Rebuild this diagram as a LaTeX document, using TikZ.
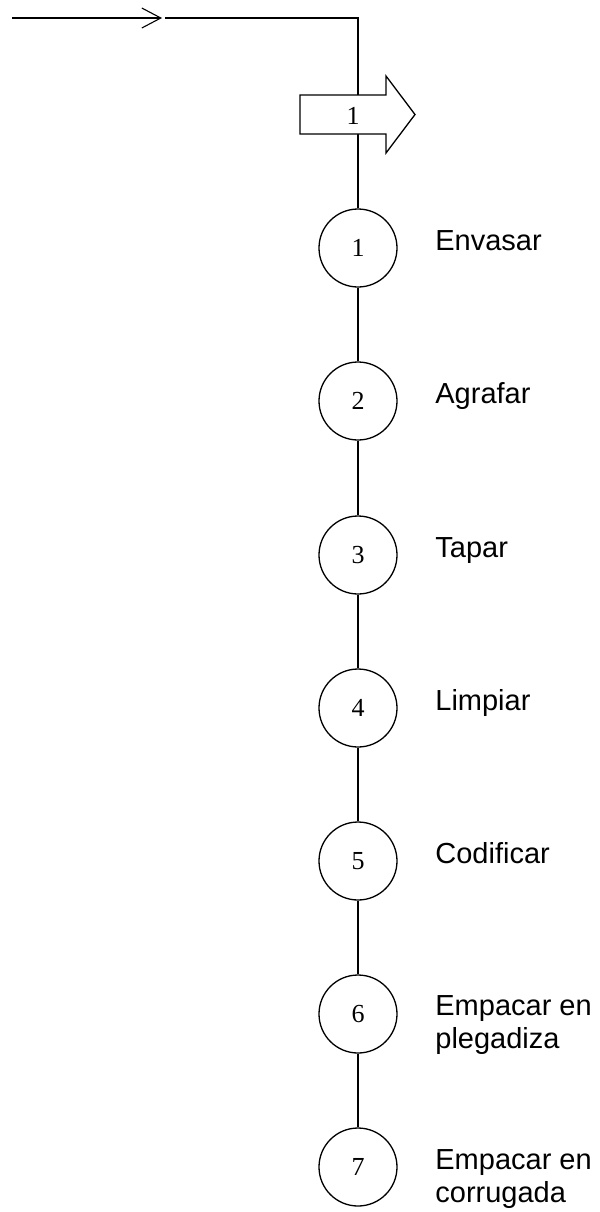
\documentclass[tikz,border=0pt]{standalone}
\usepackage{fontspec}
\setmainfont{Liberation Serif}
\newfontfamily\labelfont{Liberation Sans}
\usetikzlibrary{arrows.meta}
\begin{document}
\begin{tikzpicture}[x=0.5pt,y=-0.5pt,
  flowline/.style={line width=0.55pt},
  opstep/.style={circle,draw,line width=0.65pt,fill=white,minimum size=39pt,inner sep=0pt,
    font=\fontsize{13}{15}\selectfont},
  oplabel/.style={anchor=base west,inner sep=0pt,align=left,
    font=\labelfont\fontsize{14.5}{16.5}\selectfont},
  inarrow/.style={flowline,-{Straight Barb[length=9.5pt,width=10pt,line width=0.55pt]}},
  blockarrow/.style={draw,line width=0.65pt,fill=white}]
\useasboundingbox (0,0) rectangle (600,1212);

% incoming line and corner
\coordinate (in0) at (12,18);
\coordinate (in1) at (162,18);
\coordinate (in2) at (165,18);
\coordinate (corner) at (358,18);

% operation circles
\foreach \i/\y in {1/248,2/401,3/555,4/708,5/861,6/1014,7/1167}{
  \node[opstep] (c\i) at (358,\y) {\i};
}

% connectors
\draw[inarrow] (in0) -- (in1);
\draw[flowline] (in2) -- (corner) -- (c1);
\foreach \a/\b in {1/2,2/3,3/4,4/5,5/6,6/7}{
  \draw[flowline] (c\a) -- (c\b);
}

% block arrow on the vertical line
\path[blockarrow] (300,95) -- (386,95) -- (386,76) -- (415,114.5) -- (386,153)
  -- (386,134) -- (300,134) -- cycle;
\node[font=\fontsize{13}{15}\selectfont,inner sep=0pt] (blk) at (353,116) {1};

% operation labels (two-line labels are placed by their last baseline)
\node[oplabel] (l1) at (435,250) {Envasar};
\node[oplabel] (l2) at (435,403) {Agrafar};
\node[oplabel] (l3) at (435,557) {Tapar};
\node[oplabel] (l4) at (435,710) {Limpiar};
\node[oplabel] (l5) at (435,863) {Codificar};
\node[oplabel] (l6) at (435,1048) {Empacar en\\plegadiza};
\node[oplabel] (l7) at (435,1202) {Empacar en\\corrugada};
\end{tikzpicture}
\end{document}
